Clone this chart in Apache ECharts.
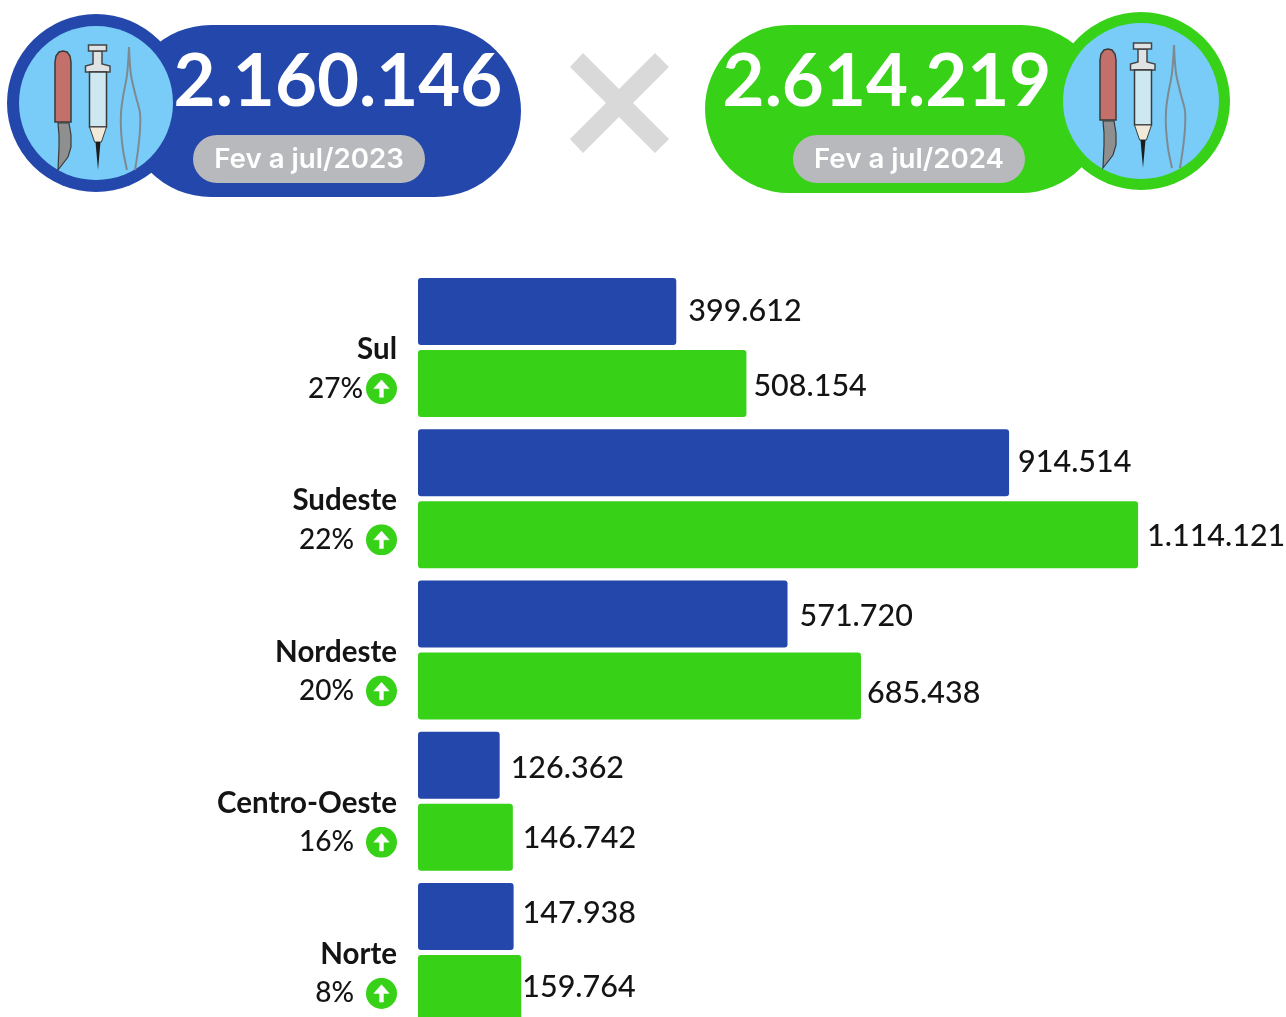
<!DOCTYPE html>
<html><head><meta charset="utf-8">
<style>html,body{margin:0;padding:0;background:#fff;overflow:hidden}#c{width:1286px;height:1017px}</style>
<script src="https://cdn.jsdelivr.net/npm/echarts@6/dist/echarts.min.js"></script>
</head><body><div id="c"></div>
<script>
const regions = ['Sul','Sudeste','Nordeste','Centro-Oeste','Norte'];
const changes = ['27%','22% ','20% ','16% ','8% '];
const values2023 = [399612,914514,571720,126362,147938];
const values2024 = [508154,1114121,685438,146742,159764];
const total2023 = '2.160.146', total2024 = '2.614.219';
const period2023 = 'Fev a jul/2023', period2024 = 'Fev a jul/2024';

// label nudges [x,y], styling only
const nudge2023 = [[4,0],[1,-1],[4,2],[3,3],[1,-3]];
const nudge2024 = [[-1,3],[1,1],[-2,7],[2,1],[-7,-1]];

const BLUE='#2347aa', GREEN='#37d118', SKY='#79ccf7', GREY='#b8b9bc', INK='#141414';
const fmt = v => String(v).replace(/\B(?=(\d{3})+$)/g,'.');
const arrowSvg = "data:image/svg+xml;utf8," + encodeURIComponent(
 `<svg xmlns="http://www.w3.org/2000/svg" viewBox="0 0 32 32"><circle cx="16" cy="16" r="16" fill="${GREEN}"/><path d="M16 7 L24 16 L18 16 L18 25 L14 25 L14 16 L8 16 Z" fill="#fff" stroke="#fff" stroke-width="0.5" stroke-linejoin="round"/></svg>`);

const poly=(points,fill,stroke,lineWidth)=>({type:'polygon',z:20,silent:true,shape:{points},style:{fill,stroke,lineWidth}});
const line=(points)=>({type:'polyline',z:20,silent:true,shape:{points,smooth:0.3},style:{fill:'none',stroke:'#7e8a92',lineWidth:2}});
function icon(cx,cy){
  return {type:'group',x:cx,y:cy,silent:true,children:[
    poly([[-41,-43],[-40,-49],[-37,-53],[-33,-54],[-29,-53],[-26,-49],[-25,-43],[-25,17],[-41,17]],'#c4706a','#3a3a3a',1.5),
    poly([[-38,18],[-27,18],[-25,30],[-25,42],[-28,52],[-38,65],[-37,42],[-37,30]],'#8f8f8f','#3a3a3a',1.2),
    poly([[-3,-54],[6,-54],[6,-41],[14,-39],[14,-33],[-10.5,-33],[-10.5,-39],[-3,-41]],'#dfe3e4','#444',1.5),
    poly([[-7.5,-60],[10.5,-60],[10.5,-54],[-7.5,-54]],'#dfe3e4','#444',1.5),
    poly([[-6.5,-33],[10.5,-33],[10.5,22],[-6.5,22]],'#cde8f0','#3a3a3a',1.5),
    poly([[-6.5,22],[10.5,22],[5.4,37],[-1.4,37]],'#f2ead9','#3a3a3a',1),
    poly([[-0.5,37],[4.5,37],[2,65]],'#1c1c1c'),
    line([[33,-58],[31,-30],[27,-8],[25,8],[25,25],[27,45],[31,65]]),
    line([[33,-58],[35,-30],[40,-8],[44,8],[44,25],[42,45],[39,65]])
  ]};
}

const graphics = [
  {type:'rect',z:10,silent:true,shape:{x:125,y:25,width:396,height:172,r:86},style:{fill:BLUE}},
  {type:'circle',z:11,silent:true,shape:{cx:96,cy:103,r:89},style:{fill:BLUE}},
  {type:'circle',z:12,silent:true,shape:{cx:96,cy:103,r:77},style:{fill:SKY}},
  icon(96,105),
  {type:'text',z:13,silent:true,style:{x:338,y:83,text:total2023,fill:'#fff',font:'bold 72.5px Lato',align:'center',verticalAlign:'middle'}},
  {type:'rect',z:13,silent:true,shape:{x:193,y:135,width:232,height:48,r:24},style:{fill:GREY}},
  {type:'text',z:14,silent:true,style:{x:309,y:160,text:period2023,fill:'#fff',font:'600 27.7px Inter',align:'center',verticalAlign:'middle'}},
  poly([[583,53],[619,89],[655,53],[669,67],[633,103],[669,139],[655,153],[619,117],[583,153],[570,139],[606,103],[570,67]],'#d9d9d9'),
  {type:'rect',z:10,silent:true,shape:{x:705,y:25,width:400,height:168,r:84},style:{fill:GREEN}},
  {type:'circle',z:11,silent:true,shape:{cx:1141,cy:101,r:89},style:{fill:GREEN}},
  {type:'circle',z:12,silent:true,shape:{cx:1141,cy:101,r:78},style:{fill:SKY}},
  icon(1141,103),
  {type:'text',z:13,silent:true,style:{x:887,y:83,text:total2024,fill:'#fff',font:'bold 72.5px Lato',align:'center',verticalAlign:'middle'}},
  {type:'rect',z:13,silent:true,shape:{x:793,y:135,width:232,height:48,r:24},style:{fill:GREY}},
  {type:'text',z:14,silent:true,style:{x:909,y:160,text:period2024,fill:'#fff',font:'600 27.7px Inter',align:'center',verticalAlign:'middle'}}
];

const barSeries=(name,color,vals,nudge)=>({
  type:'bar',name,barWidth:67,barGap:'7.5%',
  itemStyle:{color,borderRadius:3},
  data:vals.map((v,i)=>({value:v,label:{offset:nudge[i]}})),
  label:{show:true,position:'right',distance:8,color:INK,fontFamily:'Lato',fontWeight:500,fontSize:30.5,formatter:p=>fmt(p.value)},
  silent:true
});

const chart = echarts.init(document.getElementById('c'),null,{renderer:'canvas'});
chart.setOption({
  animation:false,
  backgroundColor:'#fff',
  grid:{left:418,top:272,width:868,height:756,containLabel:false,outerBoundsMode:'none'},
  xAxis:{type:'value',min:0,max:1343000,show:false},
  yAxis:{type:'category',inverse:true,data:regions,
    axisLine:{show:false},axisTick:{show:false},
    axisLabel:{margin:21,align:'right',verticalAlign:'middle',
      formatter:(v,i)=>`{blank| }\n{name|${v}}\n{pct|${changes[i].trim()}}{${changes[i].endsWith(' ')?'gapWide':'gapNarrow'}| }{up| }`,
      rich:{
        blank:{fontSize:27,lineHeight:43,align:'right'},
        name:{fontFamily:'Lato',fontWeight:'bold',fontSize:29.5,lineHeight:39,color:INK,align:'right'},
        pct:{fontFamily:'Lato',fontWeight:500,fontSize:28,lineHeight:39,color:INK,align:'right'},
        gapWide:{width:12,align:'right'},
        gapNarrow:{width:3,align:'right'},
        up:{width:31,height:31,align:'right',backgroundColor:{image:arrowSvg}}
      }}},
  series:[barSeries('Fev a jul/2023',BLUE,values2023,nudge2023),barSeries('Fev a jul/2024',GREEN,values2024,nudge2024)],
  graphic:{elements:graphics}
});
</script></body></html>
